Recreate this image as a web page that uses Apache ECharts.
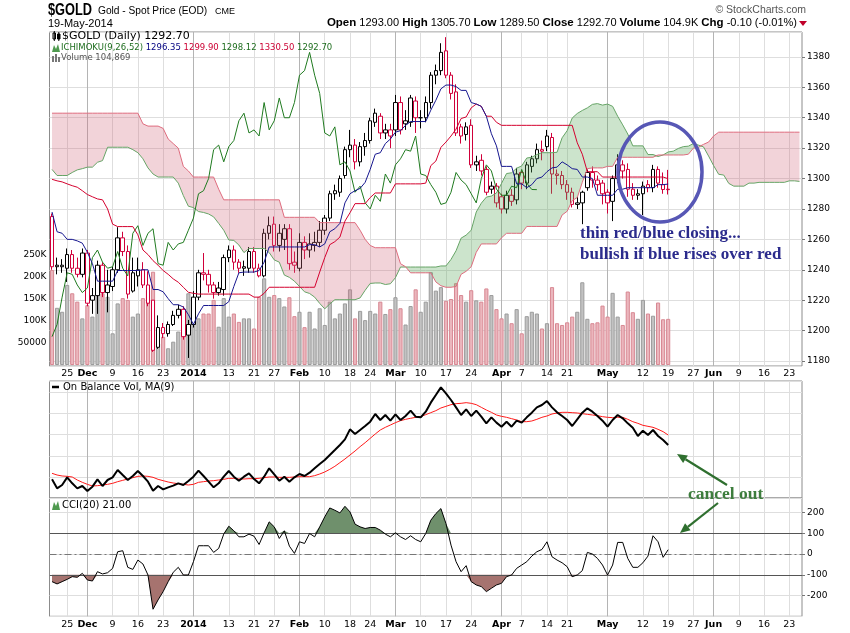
<!DOCTYPE html>
<html><head><meta charset="utf-8">
<script src="https://cdn.jsdelivr.net/npm/echarts@6/dist/echarts.min.js"></script>
<style>html,body{margin:0;padding:0;background:#fff}#c{width:850px;height:633px}</style>
</head><body><div id="c"></div>
<script>
// ---- categories: trading days (last 26 are the Ichimoku projection period) ----
const tradingDays = {
  '2013-11': [20,21,22,25,26,27,29],
  '2013-12': [2,3,4,5,6,9,10,11,12,13,16,17,18,19,20,23,24,26,27,30,31],
  '2014-01': [2,3,6,7,8,9,10,13,14,15,16,17,21,22,23,24,27,28,29,30,31],
  '2014-02': [3,4,5,6,7,10,11,12,13,14,18,19,20,21,24,25,26,27,28],
  '2014-03': [3,4,5,6,7,10,11,12,13,14,17,18,19,20,21,24,25,26,27,28,31],
  '2014-04': [1,2,3,4,7,8,9,10,11,14,15,16,17,21,22,23,24,25,28,29,30],
  '2014-05': [1,2,5,6,7,8,9,12,13,14,15,16,19,20,21,22,23,27,28,29,30],
  '2014-06': [2,3,4,5,6,9,10,11,12,13,16,17,18,19,20,23,24,25]
};
const tickLabels = {
  '2013-11-25':'25','2013-12-02':'Dec','2013-12-09':'9','2013-12-16':'16','2013-12-23':'23',
  '2014-01-02':'2014','2014-01-13':'13','2014-01-21':'21','2014-01-27':'27','2014-02-03':'Feb',
  '2014-02-10':'10','2014-02-18':'18','2014-02-24':'24','2014-03-03':'Mar','2014-03-10':'10',
  '2014-03-17':'17','2014-03-24':'24','2014-04-01':'Apr','2014-04-07':'7','2014-04-14':'14',
  '2014-04-21':'21','2014-05-01':'May','2014-05-12':'12','2014-05-19':'19','2014-05-27':'27',
  '2014-06-02':'Jun','2014-06-09':'9','2014-06-16':'16','2014-06-23':'23'
};

// ---- price data (daily) ----
const open = [1275,1243,1242,1241,1250,1241,1237,1251,1220,1223,1243,1225,1229,1240,1261,1252,1226,1236,1240,1230,
1220,1189,1202,1198,1204,1210,1214,1197,1204,1222,1238,1237,1230,1225,1227,1248,1253,1245,1241,1241,
1252,1241,1236,1264,1270,1256,1260,1267,1245,1241,1258,1253,1256,1258,1266,1274,1290,1291,1302,1319,
1322,1311,1321,1325,1337,1341,1330,1332,1332,1350,1336,1337,1351,1340,1340,1350,1368,1371,1384,1368,
1357,1334,1329,1335,1309,1312,1306,1293,1295,1288,1280,1289,1286,1304,1297,1308,1313,1319,1321,1327,
1303,1302,1296,1291,1283,1284,1294,1304,1299,1297,1291,1285,1300,1309,1306,1293,1290,1290,1296,1294,
1306,1296,1293];
const high = [1277,1248,1247,1254,1253,1248,1254,1253,1228,1246,1245,1240,1242,1268,1265,1256,1248,1248,1245,1239,
1220,1210,1205,1206,1213,1217,1216,1207,1226,1240,1251,1240,1232,1232,1250,1256,1256,1247,1246,1255,
1255,1244,1267,1275,1275,1270,1270,1270,1252,1264,1262,1264,1265,1272,1276,1292,1296,1302,1321,1332,
1326,1324,1330,1340,1346,1343,1336,1336,1355,1354,1345,1355,1354,1345,1354,1370,1375,1389,1393,1370,
1362,1336,1337,1339,1315,1316,1308,1298,1297,1290,1292,1293,1307,1305,1311,1315,1323,1325,1332,1330,
1306,1305,1299,1294,1288,1292,1306,1308,1302,1299,1293,1302,1316,1312,1310,1297,1293,1298,1299,1309,
1308,1304,1305.7];
const low = [1240,1237,1238,1232,1238,1235,1235,1216,1211,1211,1222,1212,1226,1238,1249,1221,1225,1229,1228,1216,
1186,1188,1195,1196,1203,1208,1194,1182,1202,1220,1233,1225,1221,1223,1223,1245,1240,1238,1236,1238,
1238,1235,1235,1260,1252,1252,1253,1240,1238,1239,1247,1248,1252,1255,1263,1272,1286,1288,1300,1314,
1306,1308,1315,1323,1334,1326,1326,1320,1328,1329,1332,1334,1330,1333,1337,1346,1362,1368,1366,1352,
1328,1323,1325,1307,1305,1302,1289,1290,1281,1277,1277,1282,1283,1293,1293,1304,1310,1312,1318,1290,
1296,1293,1286,1281,1280,1270,1292,1294,1292,1283,1277,1272,1297,1300,1288,1286,1286,1276,1291,1291,
1294,1290,1289.5];
const close = [1242,1242,1243,1250,1241,1237,1251,1218,1223,1243,1225,1230,1240,1261,1252,1224,1238,1240,1230,1218,
1187,1202,1198,1204,1210,1214,1196,1204,1222,1238,1237,1230,1225,1228,1248,1253,1245,1241,1242,1252,
1241,1236,1264,1269,1256,1264,1267,1244,1243,1258,1253,1257,1258,1266,1274,1290,1292,1300,1319,1322,
1311,1321,1325,1338,1343,1330,1332,1328,1350,1332,1338,1353,1340,1340,1350,1368,1371,1383,1368,1356,
1330,1328,1334,1309,1311,1305,1291,1295,1284,1280,1289,1285,1303,1297,1309,1313,1319,1318,1328,1303,
1302,1296,1291,1283,1284,1291,1304,1299,1296,1290,1284,1300,1309,1305,1293,1289,1289,1295,1294,1306,
1297,1292.8,1292.7];
const volume = [216000,130000,121000,182000,163000,144000,106000,136000,110000,174000,
163000,155000,72000,140000,152000,148000,110000,117000,152000,170000,
212000,49000,64000,38000,53000,76000,106000,163000,121000,106000,
117000,117000,148000,87000,152000,110000,117000,98000,106000,106000,
83000,155000,197000,155000,159000,152000,133000,154000,111000,121000,
86000,121000,83000,129000,91000,144000,106000,117000,140000,172000,
106000,123000,102000,123000,117000,144000,116000,127000,154000,129000,
92000,134000,172000,121000,144000,211000,169000,177000,146000,150000,
186000,159000,144000,170000,147000,144000,174000,159000,127000,106000,
117000,95000,127000,72000,111000,121000,117000,83000,95000,177000,
95000,91000,97000,110000,121000,188000,105000,95000,97000,135000,
110000,164000,110000,91000,167000,120000,105000,148000,117000,112000,
142000,104000,104869];

// ---- Ichimoku (9,26,52) lines ----
const tenkan = [1278,1265,1264,1260,1260,1259,1257.5,1251.5,1244,1232.5,1232.5,1232.5,1232.5,1239.5,1239.5,1239.5,1239.5,1239.5,1240,1240,
1227,1227,1225.5,1221,1217,1217,1215.5,1210.5,1204,1211,1216.5,1216.5,1216.5,1216.5,1216.5,1219,1229,1238,1238.5,1238.5,
1238.5,1239.5,1245,1255,1255,1255,1255,1255,1255,1255,1255,1256.5,1256.5,1255,1257,1265,1267,1270.5,1284,1290,
1292,1293.5,1297.5,1306,1316,1317,1323,1326,1330.5,1331.5,1335,1337.5,1337.5,1337.5,1337.5,1345,1351.5,1359,1361.5,1361.5,
1360.5,1358,1358,1350,1349,1347.5,1341,1329.5,1321.5,1308,1308,1308,1296.5,1296.5,1294,1296,1300,1301,1304.5,1307,
1307.5,1311,1309,1306.5,1306,1301,1301,1300,1289,1289,1289,1289,1293,1293,1294,1294,1294,1294,1294,1294,
1296,1296,1296.35];
const kijun = [1299.5,1298.5,1297.8,1296.5,1295.3,1294.3,1292,1289.5,1288,1286.6,1286,1280,1270,1268.4,1268.4,1268.4,1268.4,1263,1253,1250,
1246,1243,1239.5,1237,1234,1231.8,1228.5,1225.2,1224.5,1224,1224,1224,1224,1224,1224,1224,1224,1224,1224,1224,
1222,1222,1224.5,1228.5,1228.5,1228.5,1228.5,1228.5,1228.5,1228.5,1228.5,1228.5,1228.5,1238.5,1248,1256.5,1258.5,1261.5,1272,1277.5,
1283.5,1283.5,1283.5,1287.5,1290.5,1290.5,1290.5,1290.5,1296.5,1296.5,1296.5,1296.5,1296.5,1296.5,1297,1308.5,1311.5,1320.5,1324,1328,
1332.5,1339.5,1340.5,1346.5,1349,1347.5,1341,1341,1337,1335,1335,1335,1335,1335,1335,1335,1335,1335,1335,1335,
1335,1335,1335,1335,1323.5,1316,1304.5,1304.5,1304.5,1301,1301,1301,1301,1301,1301,1301,1301,1301,1301,1301,
1301,1301,1299.9];
const spanA = [1306,1302,1302,1302,1304,1305.7,1306.5,1307.5,1307.5,1310.7,1311.8,1320.6,1320.6,1320.6,1320.6,1320.6,1319,1317,1313,1307,1303,1301,1301,1301,1301,1297,
1288.8,1281.8,1280.9,1278.3,1277.7,1276.7,1274.8,1270.5,1266,1259.6,
1259.3,1256.3,1251.3,1254,1254,1254,1254,1251.3,1246.5,1245,
1236.5,1235,1232.5,1229,1225.5,1224.4,1222,1217.9,1214.3,1217.5,
1220.3,1220.3,1220.3,1220.3,1220.3,1221.5,1226.5,1231,1231.3,1231.3,
1230.3,1230.8,1234.8,1241.8,1241.8,1241.8,1241.8,1241.8,1241.8,1241.8,
1241.8,1242.5,1242.5,1246.8,1252.5,1260.8,1262.8,1266,1278,1283.8,
1287.8,1288.5,1290.5,1296.8,1303.3,1303.8,1306.8,1308.3,1313.5,1314,
1315.8,1317,1317,1317,1317.3,1326.8,1331.5,1339.8,1342.8,1344.8,
1346.5,1348.8,1349.3,1348.3,1349,1347.5,1341,1335.3,1329.3,1321.5,
1321.5,1321.5,1315.8,1315.8,1314.5,1315.5,1317.5,1318,1319.8,1321,
1321.3,1323,1322,1320.8,1314.8,1308.5,1302.8,1302.3,1296.8,1295,
1295,1295,1297,1297,1297.5,1297.5,1297.5,1297.5,1297.5,1297.5,
1298.5,1298.5,1298.12];
const spanB = [1343,1343,1343,1343,1343,1343,1343,1343,1343,1343,1343,1343,1343,1343,1343,1343,1343,1343,
1336,1334.5,1334.5,1334.5,1333,1326,1323,1320,1308,1305,
1301,1301,1301,1301,1301,1293,
1286,1286,1286,1286,1286,1286,1286,1286,1286,1286,1286,1286,
1274.5,1274.5,1274.5,1274.5,1274.5,1274.5,1274.5,
1271,1271,1271,1271,1271,1271,1271,1271,
1266,1260,1256,
1254.5,1254.5,1254.5,1254.5,1254.5,
1244,1242,
1238,1238,1238,1238,1238,
1232,
1229.5,1228.5,1228.5,1229,1237,1239,1242,1251.5,1257,1257,1257,1257,1261,1264,1264,1264,1264,1268.5,
1268.5,1268.5,1268.5,1268.5,1268.5,1268.5,
1276,1278.5,1285.5,1287.5,1297.5,1306.5,1307,1307,1307,1308,1308,
1314,
1314,1314,1314,1314,1314,1314,1314,
1315.5,
1315.5,1315.5,1315.5,1315.5,1315.5,
1316,1320,1320.5,1322.5,1324,1328,
1330.5,1330.5,1330.5,1330.5,1330.5,1330.5,1330.5,1330.5,1330.5,1330.5,1330.5,1330.5,1330.5,1330.5,1330.5,1330.5,1330.5];
const chikouShift = 26;

// ---- On Balance Volume and its MA(9) (relative units) ----
const obv = [-94,-516,-359,0,-281,-516,-406,-641,-438,-94,
-406,-125,0,344,109,-125,63,297,63,-203,
-625,-406,-563,-469,-391,-281,-359,-172,31,313,
63,-203,-469,-281,31,297,31,-156,31,188,
-78,-281,31,422,141,-156,31,-203,0,156,
63,219,422,625,813,1047,1281,1516,1781,2250,
2031,2219,2406,2609,2969,2688,2922,2656,2953,2688,
2875,3125,2844,2813,3078,3500,3859,4219,3938,3625,
3281,2922,3188,2875,3125,2844,2531,2813,2563,2375,
2609,2375,2656,2563,2813,3031,3281,3391,3578,3281,
3047,2875,2688,2406,2719,3031,3234,3078,2875,2656,
2375,2688,2922,2766,2531,2328,1938,2188,1984,2219,
1938,1750,1516];
const obvMA = [188,109,63,47,16,-125,-234,-328,-406,-391,
-359,-328,-281,-203,-141,-78,-16,47,63,47,
0,-94,-156,-219,-266,-297,-328,-359,-328,-234,
-203,-172,-156,-125,-94,-47,-47,-78,-78,-63,
-63,-47,-16,16,16,0,0,0,16,31,
31,31,78,156,250,375,516,688,859,1047,
1234,1438,1625,1828,2031,2219,2344,2453,2563,2656,
2719,2766,2813,2844,2938,3031,3125,3250,3328,3406,
3453,3469,3500,3469,3406,3281,3156,3047,2922,2859,
2813,2750,2688,2609,2609,2641,2719,2813,2875,2969,
3016,3047,3047,3031,3016,2984,2953,2922,2891,2844,
2813,2797,2813,2813,2719,2609,2531,2438,2391,2344,
2250,2141,1984];

// ---- CCI(20) ----
const cci = [-133,-144,-133,-122,-109,-112,-93,-125,-130,-85,
-96,-90,-69,11,16,-64,-74,-29,-48,-101,
-266,-221,-181,-133,-88,-64,-101,-101,-37,40,
40,40,8,27,96,134,112,83,83,96,
86,46,102,155,131,75,112,38,3,59,
51,99,83,131,179,222,211,198,230,203,
144,131,123,128,128,115,96,83,102,83,
70,88,70,59,99,163,195,219,147,43,
-37,-85,-56,-133,-149,-157,-181,-165,-149,-141,
-109,-101,-69,-53,-37,-10,11,22,59,-13,
-29,-42,-61,-109,-101,-80,8,0,-21,-53,
-101,-53,56,56,-21,-64,-64,-42,-10,88,
59,-16,21];

// ================= build =================
const dates = [];
Object.keys(tradingDays).forEach(m => tradingDays[m].forEach(d => dates.push(m + '-' + String(d).padStart(2,'0'))));
const n = close.length;
const RED = '#d0003a', BLACK = '#000';
const FONT = 'DejaVu Sans';
const isBold = t => /^[A-Za-z]/.test(t) || t === '2014';

const candleData = open.map((o,i) => {
  const c = close[i];
  const up = i === 0 ? c >= o : c >= close[i-1];
  const col = up ? BLACK : RED;
  return {value:[o, c, low[i], high[i]], itemStyle:{color:'#fff', color0:col, borderColor:col, borderColor0:col, borderWidth:1}};
});
const volData = volume.map((v,i) => {
  const down = i === 0 ? close[i] < open[i] : close[i] < close[i-1];
  return {value:v, itemStyle: down ? {color:'#ebb6bd', borderColor:'#d88893', borderWidth:1} : {color:'#c2c2c2', borderColor:'#9c9c9c', borderWidth:1}};
});
const chikou = dates.map((d,i) => (i + chikouShift < n ? close[i + chikouShift] : null));
const cloudBase = spanA.map((a,i) => Math.min(a, spanB[i]));
const cloudGreen = spanA.map((a,i) => (a > spanB[i] ? a - spanB[i] : 0));
const cloudPink = spanA.map((a,i) => (spanB[i] > a ? spanB[i] - a : 0));
const cciUp = cci.map(v => Math.max(v, 100));
const cciDn = cci.map(v => Math.min(v, -100));

const vLines = Object.keys(tickLabels).map(d => ({xAxis:d, lineStyle:{color: isBold(tickLabels[d]) ? '#b4b4b4' : '#dedede', width:1, type:'solid'}}));
const gridLineSeries = k => ({type:'line', xAxisIndex:k, yAxisIndex:k, data: dates.map(() => null), symbol:'none', silent:true, z:0,
  lineStyle:{opacity:0}, markLine:{z:0, silent:true, symbol:['none','none'], label:{show:false}, animation:false, data:vLines}});

const xAxis = (k, showLabels) => ({
  type:'category', gridIndex:k, data:dates, boundaryGap:true,
  axisLine:{show:false}, axisTick:{show:false}, splitLine:{show:false},
  axisLabel:{show:showLabels, interval:(idx, val) => tickLabels[val] !== undefined,
    formatter: val => { const t = tickLabels[val]; if (!t) return ''; return isBold(t) ? '{b|' + t + '}' : t; },
    fontFamily:FONT, fontSize:9.5, color:'#000', margin:3,
    rich:{b:{fontWeight:'bold', fontFamily:FONT, fontSize:9.5, color:'#000'}}}
});
const axisFont = {fontFamily:FONT, fontSize:9, color:'#000'};

const option = {
  animation:false,
  grid:[
    {left:49.5, right:48, top:32, height:334, show:true, borderColor:'#8c8c8c', borderWidth:1},
    {left:49.5, right:48, top:233, height:132, show:false},
    {left:49.5, right:48, top:381, height:117, show:true, borderColor:'#8c8c8c', borderWidth:1},
    {left:49.5, right:48, top:498, height:118.3, show:true, borderColor:'#8c8c8c', borderWidth:1}
  ],
  xAxis:[xAxis(0,true), Object.assign(xAxis(1,false), {show:false}), xAxis(2,false), xAxis(3,true)],
  yAxis:[
    {type:'value', gridIndex:0, position:'right', min:1176.7, max:1396.4, splitNumber:11, minInterval:20, maxInterval:20,
     axisLine:{show:false}, axisTick:{show:true, length:3, lineStyle:{color:'#777'}},
     axisLabel:Object.assign({showMinLabel:false, showMaxLabel:false, margin:5, formatter: v => String(Math.round(v))}, axisFont),
     splitLine:{lineStyle:{color:'#dedede'}}},
    {type:'value', gridIndex:1, position:'left', min:0, max:300000, interval:50000,
     axisLine:{show:false}, axisTick:{show:false}, splitLine:{show:false},
     axisLabel:Object.assign({margin:3, showMinLabel:false, showMaxLabel:false,
       formatter: v => v === 50000 ? '50000' : (v >= 100000 && v <= 250000 ? (v/1000) + 'K' : '')}, axisFont)},
    {type:'value', gridIndex:2, position:'right', min:-968.75, max:4515.6, splitNumber:5, minInterval:1000, maxInterval:1000,
     axisLine:{show:false}, axisTick:{show:false}, axisLabel:{show:false},
     splitLine:{lineStyle:{color:'#dedede'}}},
    {type:'value', gridIndex:3, position:'right', min:-300, max:270, splitNumber:6, minInterval:100, maxInterval:100,
     axisLine:{show:false}, axisTick:{show:true, length:3, lineStyle:{color:'#777'}},
     axisLabel:Object.assign({showMinLabel:false, showMaxLabel:false, margin:5, formatter: v => String(Math.round(v))}, axisFont),
     splitLine:{lineStyle:{color:'#dedede'}}}
  ],
  series:[
    gridLineSeries(0), gridLineSeries(2), gridLineSeries(3),
    {name:'Volume', type:'bar', xAxisIndex:1, yAxisIndex:1, data:volData, barWidth:'82%', z:1, silent:true},
    {name:'$GOLD', type:'candlestick', xAxisIndex:0, yAxisIndex:0, data:candleData, barWidth:4, z:3, silent:true},
    {name:'cloudBase', type:'line', xAxisIndex:0, yAxisIndex:0, data:cloudBase, stack:'cloud', symbol:'none', lineStyle:{opacity:0, width:0}, z:4, silent:true},
    {name:'cloudGreen', type:'line', xAxisIndex:0, yAxisIndex:0, data:cloudGreen, stack:'cloud', symbol:'none', lineStyle:{opacity:0, width:0},
     areaStyle:{color:'rgba(95,170,95,0.45)'}, z:4, silent:true},
    {name:'cloudPink', type:'line', xAxisIndex:0, yAxisIndex:0, data:cloudPink, stack:'cloud', symbol:'none', lineStyle:{opacity:0, width:0},
     areaStyle:{color:'rgba(212,105,125,0.42)'}, z:4, silent:true},
    {name:'Senkou A', type:'line', xAxisIndex:0, yAxisIndex:0, data:spanA, symbol:'none', lineStyle:{color:'#66a466', width:1}, z:5, silent:true},
    {name:'Senkou B', type:'line', xAxisIndex:0, yAxisIndex:0, data:spanB, symbol:'none', lineStyle:{color:'#de6c7e', width:1}, z:5, silent:true},
    {name:'Chikou', type:'line', xAxisIndex:0, yAxisIndex:0, data:chikou, symbol:'none', lineStyle:{color:'#1f7a1f', width:1}, z:6, silent:true},
    {name:'Kijun', type:'line', xAxisIndex:0, yAxisIndex:0, data:kijun, symbol:'none', lineStyle:{color:'#d4002e', width:1}, z:6, silent:true},
    {name:'Tenkan', type:'line', xAxisIndex:0, yAxisIndex:0, data:tenkan, symbol:'none', lineStyle:{color:'#16168f', width:1}, z:6, silent:true},
    {name:'OBV MA', type:'line', xAxisIndex:2, yAxisIndex:2, data:obvMA, symbol:'none', lineStyle:{color:'#ff1a1a', width:1}, z:5, silent:true},
    {name:'OBV', type:'line', xAxisIndex:2, yAxisIndex:2, data:obv, symbol:'none', lineStyle:{color:'#000', width:2}, z:6, silent:true},
    {name:'cciUp', type:'line', xAxisIndex:3, yAxisIndex:3, data:cciUp, symbol:'none', lineStyle:{opacity:0, width:0},
     areaStyle:{origin:100, color:'#6f906c', opacity:1}, z:3, silent:true},
    {name:'cciDn', type:'line', xAxisIndex:3, yAxisIndex:3, data:cciDn, symbol:'none', lineStyle:{opacity:0, width:0},
     areaStyle:{origin:-100, color:'#a6736f', opacity:1}, z:3, silent:true},
    {name:'CCI', type:'line', xAxisIndex:3, yAxisIndex:3, data:cci, symbol:'none', lineStyle:{color:'#000', width:1}, z:6, silent:true,
     markLine:{z:4, silent:true, symbol:['none','none'], label:{show:false}, animation:false, data:[
       {yAxis:100, lineStyle:{color:'#555', width:1, type:'solid'}},
       {yAxis:-100, lineStyle:{color:'#555', width:1, type:'solid'}},
       {yAxis:0, lineStyle:{color:'#777', width:1, type:[7,3,2,3]}}]}}
  ]
};

// ---------- texts & annotations ----------
const last = n - 1;
const fmt = v => v.toFixed(2);
const txt = (x, y, text, font, fill, align, rich) => ({type:'text', z:100, silent:true,
  style:{x, y, text, font, fill, textAlign:align || 'left', textVerticalAlign:'middle', align:align || 'left', verticalAlign:'middle', rich}});
const chg = close[last] - close[last-1];
const g = [];
const title = txt(0, 0, '$GOLD', 'bold 16px "Liberation Sans"', '#000');
title.x = 48; title.y = 11; title.scaleX = 0.8;
g.push(title);
g.push(txt(98, 11, 'Gold - Spot Price (EOD)', '10.2px "Liberation Sans"', '#000'));
g.push(txt(215, 12, 'CME', '9px "Liberation Sans"', '#000'));
g.push(txt(48, 23.5, '19-May-2014', '11px "Liberation Sans"', '#000'));
g.push(txt(806, 10, '\u00A9 StockCharts.com', '10.5px "Liberation Sans"', '#555', 'right'));
g.push(txt(797, 23, '{b|Open} ' + fmt(open[last]) + ' {b|High} ' + fmt(high[last]) + ' {b|Low} ' + fmt(low[last]) +
  ' {b|Close} ' + fmt(close[last]) + ' {b|Volume} ' + (volume[last]/1000).toFixed(1) + 'K {b|Chg} ' + chg.toFixed(2) +
  ' (' + (chg / close[last-1] * 100).toFixed(2) + '%)', '11px "Liberation Sans"', '#000', 'right',
  {b:{font:'bold 11.5px "Liberation Sans"', fill:'#000'}}));
g.push({type:'polygon', z:100, silent:true, shape:{points:[[799,21],[807,21],[803,26]]}, style:{fill:'#c0002a'}});

// legend: main panel
g.push({type:'rect', z:100, silent:true, shape:{x:53, y:33, width:2.5, height:6}, style:{fill:'#fff', stroke:'#000', lineWidth:1}});
g.push({type:'line', z:100, silent:true, shape:{x1:54.3, y1:31, x2:54.3, y2:41}, style:{stroke:'#000', lineWidth:1}});
g.push({type:'rect', z:100, silent:true, shape:{x:57.5, y:34, width:2.5, height:5}, style:{fill:'#000', stroke:'#000', lineWidth:1}});
g.push({type:'line', z:100, silent:true, shape:{x1:58.8, y1:32, x2:58.8, y2:41}, style:{stroke:'#000', lineWidth:1}});
g.push(txt(62, 36.5, '$GOLD (Daily) ' + fmt(close[last]), '11px "' + FONT + '"', '#000'));
g.push({type:'polygon', z:100, silent:true, shape:{points:[[52,52],[54,45],[56,49],[58,44],[60,52]]}, style:{fill:'#4f9a4f'}});
g.push(txt(61, 47.5, '{g|ICHIMOKU(9,26,52)} {n|' + fmt(tenkan[last]) + '} {r|' + fmt(kijun[last]) + '} {g|' +
  fmt(spanA[spanA.length-1]) + '} {r|' + fmt(spanB[spanB.length-1]) + '} {g|' + fmt(close[last]) + '}',
  '8.5px "' + FONT + '"', '#000', 'left',
  {g:{fill:'#1f6e1f', font:'8.5px "' + FONT + '"'}, n:{fill:'#000080', font:'8.5px "' + FONT + '"'}, r:{fill:'#cc0033', font:'8.5px "' + FONT + '"'}}));
g.push({type:'rect', z:100, silent:true, shape:{x:52, y:56, width:2, height:6}, style:{fill:'#777'}});
g.push({type:'rect', z:100, silent:true, shape:{x:55, y:54, width:2, height:8}, style:{fill:'#777'}});
g.push({type:'rect', z:100, silent:true, shape:{x:58, y:57, width:2, height:5}, style:{fill:'#777'}});
g.push(txt(61, 58, 'Volume ' + volume[last].toLocaleString('en-US'), '8.5px "' + FONT + '"', '#555'));

// legend: OBV & CCI panels
g.push({type:'line', z:100, silent:true, shape:{x1:52, y1:387, x2:59, y2:387}, style:{stroke:'#000', lineWidth:2.5}});
g.push(txt(63, 387.5, 'On Balance Vol, MA(9)', '10px "' + FONT + '"', '#000'));
g.push({type:'polygon', z:100, silent:true, shape:{points:[[52,510],[54,502],[56,506],[58,501],[60,510]]}, style:{fill:'#4f9a4f'}});
g.push(txt(62, 505.5, 'CCI(20) ' + fmt(cci[last]), '10px "' + FONT + '"', '#000'));

// annotations
g.push({type:'ellipse', z:110, silent:true, shape:{cx:660, cy:172, rx:42, ry:50}, style:{fill:'none', stroke:'#5757b5', lineWidth:3.5}});
g.push(txt(580, 233.5, 'thin red/blue closing...', 'bold 17px "Liberation Serif"', '#2b2b8c'));
g.push(txt(580, 255, 'bullish if blue rises over red', 'bold 17px "Liberation Serif"', '#2b2b8c'));
g.push(txt(688, 494, 'cancel out', 'bold 17.5px "Liberation Serif"', '#3d7d3d'));
function arrow(x1, y1, x2, y2) {
  const dx = x2 - x1, dy = y2 - y1, L = Math.hypot(dx, dy), ux = dx / L, uy = dy / L;
  const bx = x2 - ux * 10, by = y2 - uy * 10;
  g.push({type:'line', z:110, silent:true, shape:{x1, y1, x2:bx, y2:by}, style:{stroke:'#2f6f2f', lineWidth:2.2}});
  g.push({type:'polygon', z:110, silent:true, shape:{points:[[x2,y2],[bx - uy*4.5, by + ux*4.5],[bx + uy*4.5, by - ux*4.5]]}, style:{fill:'#2f6f2f'}});
}
arrow(727, 485, 677, 454);
arrow(718, 503, 680, 533);
option.graphic = {elements:g};

const chart = echarts.init(document.getElementById('c'), null, {renderer:'canvas'});
chart.setOption(option);
</script>
</body></html>
